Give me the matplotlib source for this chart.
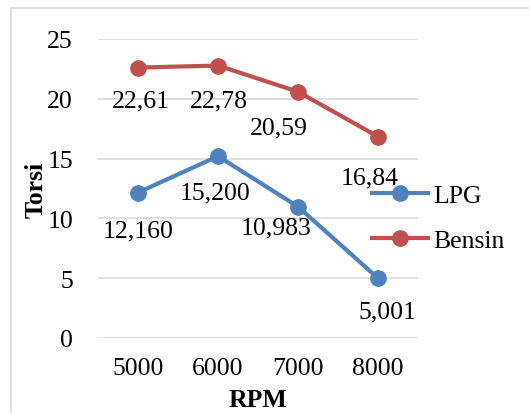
import matplotlib
matplotlib.use("Agg")
import matplotlib.pyplot as plt
from matplotlib.patches import Rectangle

categories = ["5000", "6000", "7000", "8000"]
lpg = [12.160, 15.200, 10.983, 5.001]
bensin = [22.61, 22.78, 20.59, 16.84]
lpg_labels = ["12,160", "15,200", "10,983", "5,001"]
bensin_labels = ["22,61", "22,78", "20,59", "16,84"]
yticks = [0, 5, 10, 15, 20, 25]

plt.rcParams['font.family'] = ['Liberation Serif', 'DejaVu Serif']
FS = 18.5

fig = plt.figure(figsize=(5.29, 4.14), dpi=100)
fig.patches.append(Rectangle((11/529, -0.1), 1.2, 1.1 - 9/414, transform=fig.transFigure,
                             fill=False, edgecolor='#d9d9d9', linewidth=1.2))
ax = fig.add_axes([98/529, 75/414, 320/529, 299/414])
x = list(range(len(categories)))
blue = '#4f81bd'
red = '#c0504d'
ax.plot(x, lpg, color=blue, linewidth=3.0, marker='o', markersize=11, label='LPG', zorder=3)
ax.plot(x, bensin, color=red, linewidth=3.0, marker='o', markersize=11, label='Bensin', zorder=3)

ax.set_xlim(-0.5, 3.5)
ax.set_ylim(0, 25)
ax.set_yticks(yticks)
ax.set_xticks(x)
ax.set_xticklabels(categories)
ax.grid(axis='y', color='#d9d9d9', linewidth=1.2)
ax.set_axisbelow(True)
for s in ax.spines.values():
    s.set_visible(False)
ax.tick_params(length=0, labelsize=FS)
ax.tick_params(axis='y', pad=18)
ax.tick_params(axis='x', pad=14)

lpg_off = [(0, -38), (-3, -36), (-22, -21), (9, -33)]
bensin_off = [(3, -33), (1, -35), (-19, -36), (-8, -41)]
for i, (v, t) in enumerate(zip(lpg, lpg_labels)):
    ax.annotate(t, xy=(i, v), xytext=lpg_off[i], textcoords='offset pixels',
                ha='center', va='center', fontsize=FS, zorder=4)
for i, (v, t) in enumerate(zip(bensin, bensin_labels)):
    ax.annotate(t, xy=(i, v), xytext=bensin_off[i], textcoords='offset pixels',
                ha='center', va='center', fontsize=FS, zorder=4)

ax.set_ylabel('Torsi', fontsize=FS, fontweight='bold', labelpad=0)
ax.set_xlabel('RPM', fontsize=FS, fontweight='bold', labelpad=6)

leg = ax.legend(loc='center left', bbox_to_anchor=(0.855, 0.40), frameon=False,
                fontsize=FS, handlelength=2.2, handletextpad=0.2, labelspacing=0.86,
                borderaxespad=0, borderpad=0)

fig.savefig('out.png', dpi=100)
